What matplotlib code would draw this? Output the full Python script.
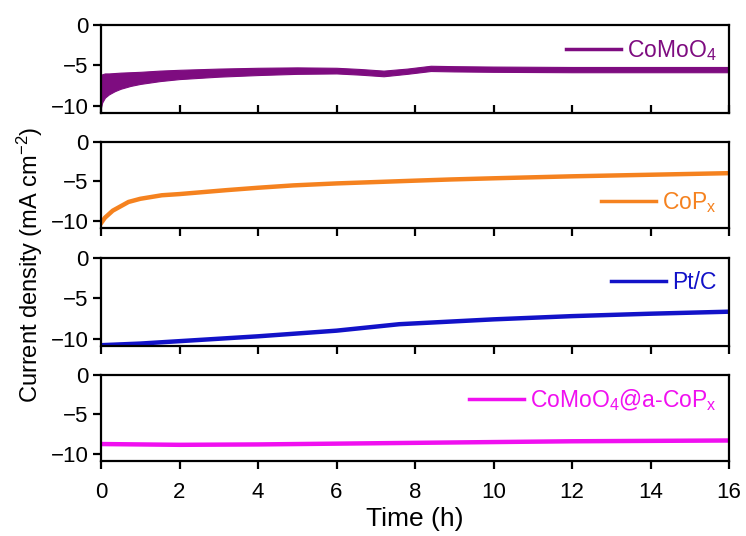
import matplotlib
matplotlib.use("Agg")
import matplotlib.pyplot as plt
import numpy as np

plt.rcParams['font.family'] = ['Liberation Sans', 'DejaVu Sans']
plt.rcParams['mathtext.fontset'] = 'custom'
plt.rcParams['mathtext.rm'] = 'Liberation Sans'
plt.rcParams['mathtext.it'] = 'Liberation Sans'
plt.rcParams['mathtext.bf'] = 'Liberation Sans:bold'

# ---- data ----
# CoMoO4: envelope (noisy band)
t_como = [0, 0.03, 0.1, 0.2, 0.35, 0.5, 0.75, 1.0, 1.5, 2.0, 3.0, 4.0, 5.0, 6.0, 6.6, 7.2, 7.8, 8.4, 9.0, 10, 12, 14, 16]
como_upper = [-6.4, -6.1, -6.0, -6.0, -5.95, -5.9, -5.85, -5.8, -5.65, -5.55, -5.4, -5.3, -5.25, -5.3, -5.45, -5.65, -5.4, -5.05, -5.1, -5.15, -5.2, -5.2, -5.2]
como_lower = [-10.2, -9.6, -9.0, -8.6, -8.2, -7.9, -7.55, -7.3, -6.95, -6.7, -6.4, -6.2, -6.05, -6.0, -6.15, -6.35, -6.05, -5.7, -5.75, -5.8, -5.85, -5.85, -5.85]

t_cop = [0, 0.1, 0.3, 0.7, 1.0, 1.55, 2.0, 3.2, 4.0, 4.9, 6.0, 8.0, 8.9, 10, 12, 14, 16]
cop = [-10.3, -9.6, -8.7, -7.6, -7.2, -6.75, -6.6, -6.1, -5.8, -5.5, -5.25, -4.9, -4.75, -4.6, -4.35, -4.15, -3.95]

t_pt = [0, 1, 2, 3, 4, 6, 7.6, 10, 12, 14, 16]
pt = [-10.8, -10.6, -10.3, -10.0, -9.7, -9.0, -8.2, -7.6, -7.2, -6.9, -6.65]

t_cc = [0, 1, 2, 4, 6, 8, 10, 12, 14, 16]
cc = [-8.75, -8.8, -8.85, -8.8, -8.7, -8.6, -8.5, -8.4, -8.35, -8.3]

labels = ['CoMoO$_\\mathrm{4}$', 'CoP$_\\mathrm{x}$', 'Pt/C', 'CoMoO$_\\mathrm{4}$@a-CoP$_\\mathrm{x}$']
colors = ['#7E0C80', '#F5821F', '#1212C8', '#F010F0']
xticks = [0, 2, 4, 6, 8, 10, 12, 14, 16]
yticks = [0, -5, -10]

# ---- figure ----
W, H = 746, 536
fig = plt.figure(figsize=(W / 100, H / 100), dpi=100)
left = 101 / W
width = (729 - 101) / W
panels_px = [(25, 113), (142, 228), (258, 346), (375, 461)]
axes = []
for (top, bot) in panels_px:
    ax = fig.add_axes([left, 1 - bot / H, width, (bot - top) / H])
    axes.append(ax)

# CoMoO4
ax = axes[0]
ax.fill_between(t_como, como_lower, como_upper, color=colors[0], lw=0.8, edgecolor=colors[0])
ax.plot([], [], color=colors[0], lw=2.5, label=labels[0])

axes[1].plot(t_cop, cop, color=colors[1], lw=3.2, label=labels[1])
axes[2].plot(t_pt, pt, color=colors[2], lw=3.2, label=labels[2])
axes[3].plot(t_cc, cc, color=colors[3], lw=3.2, label=labels[3])

for i, ax in enumerate(axes):
    ax.set_xlim(0, 16)
    ax.set_ylim(-10.9, 0)
    ax.set_yticks(yticks)
    ax.set_xticks(xticks)
    for s in ax.spines.values():
        s.set_linewidth(1.6)
    ax.tick_params(axis='y', direction='out', length=6, width=1.6, labelsize=16, pad=3)
    ax.tick_params(axis='x', direction='in' if i == 0 else 'out', length=6, width=1.6,
                   labelsize=16, pad=9)
    if i < 3:
        ax.tick_params(axis='x', labelbottom=False)
    loc = 'lower right' if i == 1 else 'upper right'
    leg = ax.legend(loc=loc, frameon=False, fontsize=16.5, handlelength=2.4,
                    handletextpad=0.25, borderaxespad=0.15, labelcolor='linecolor')
    for line in leg.get_lines():
        line.set_linewidth(2.5)

axes[3].set_xlabel('Time (h)', fontsize=19, labelpad=3)
fig.text(30 / W, 1 - 265 / H, 'Current density (mA cm$^{\\mathrm{-2}}$)', rotation=90,
         ha='center', va='center', fontsize=17)

fig.savefig('out.png', dpi=100)
